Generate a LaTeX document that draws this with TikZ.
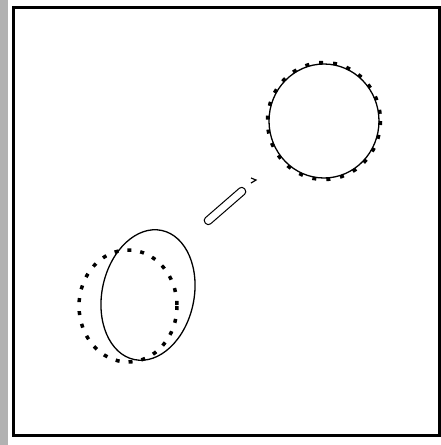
\documentclass[tikz,border=0pt]{standalone}
\begin{document}
\begin{tikzpicture}[x=1pt,y=-1pt,
  frame/.style={line width=3pt},
  thin/.style={line width=1.3pt},
  sqdots/.style={line width=3.5pt,dash pattern=on 4pt off 10pt}]
\useasboundingbox (0,0) rectangle (441,445);
\fill[white] (0,0) rectangle (441,445);
\fill[black!30] (0,0) rectangle (8,445);
\draw[frame] (13.5,7.5) rectangle (439.5,435.5);
% top right circle
\draw[thin] (324,121) ellipse [x radius=55, y radius=57];
\draw[sqdots] (324,121) ellipse [x radius=56.5, y radius=58.5];
% lower left dotted ellipse
\draw[sqdots,dash pattern=on 4pt off 9pt] (128,306) ellipse [x radius=49, y radius=56];
% lower left solid ellipse
\draw[thin,rotate around={-12:(148,295)}] (148,295) ellipse [x radius=46, y radius=66];
% capsule
\draw[line width=1pt,rounded corners=3.5pt,rotate around={41:(225,206)}] (199,202) rectangle (251,210);
% small mark
\draw[line width=1.2pt] (251,178) -- (256,180) -- (251,183);
\end{tikzpicture}
\end{document}
